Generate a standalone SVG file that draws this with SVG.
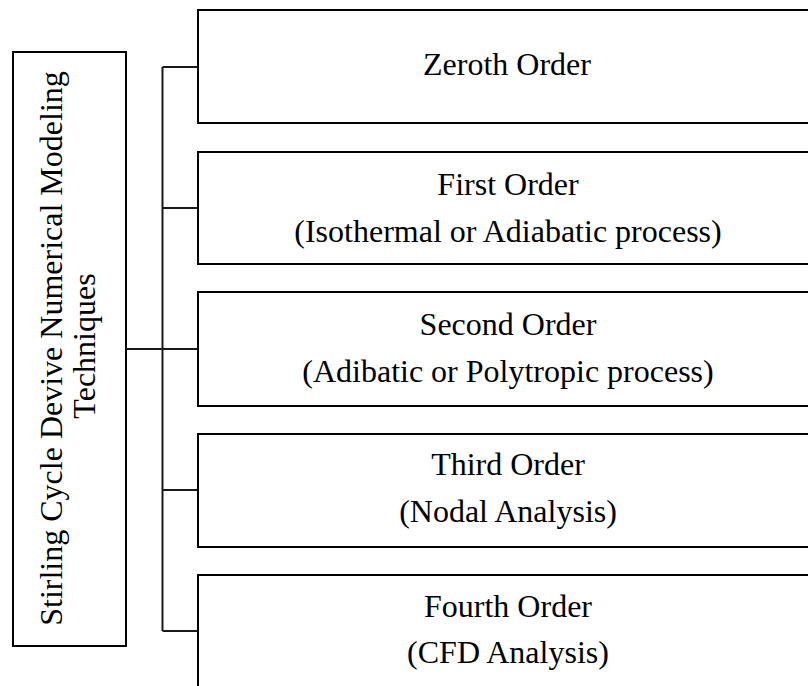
<svg xmlns="http://www.w3.org/2000/svg" width="808" height="686" viewBox="0 0 808 686">
<style>
.box{fill:#fff;stroke:#000;stroke-width:2}
.lbl{font-family:"Liberation Serif","Times New Roman",serif;font-size:32px;fill:#000;text-anchor:middle}
.con{stroke:#1a1a1a;stroke-width:2;fill:none}
</style>
<rect width="808" height="686" fill="#fff"/>
<g id="root">
<rect class="box" x="13" y="52" width="113" height="594"/>
<text class="lbl" transform="translate(61.5,348.5) rotate(-90)">Stirling Cycle Devive Numerical Modeling</text>
<text class="lbl" transform="translate(94.5,346) rotate(-90)">Techniques</text>
</g>
<g id="connectors">
<path class="con" d="M126 349H198M162.5 67V631M162.5 67H198M162.5 208H198M162.5 490H198M162.5 631H198"/>
</g>
<g id="zeroth">
<rect class="box" x="198" y="10" width="630" height="113"/>
<text class="lbl" x="507" y="75">Zeroth Order</text>
</g>
<g id="first">
<rect class="box" x="198" y="152" width="630" height="112"/>
<text class="lbl" x="508" y="195">First Order</text>
<text class="lbl" x="508" y="242">(Isothermal or Adiabatic process)</text>
</g>
<g id="second">
<rect class="box" x="198" y="292" width="630" height="114"/>
<text class="lbl" x="508" y="335">Second Order</text>
<text class="lbl" x="508" y="382">(Adibatic or Polytropic process)</text>
</g>
<g id="third">
<rect class="box" x="198" y="434" width="630" height="113"/>
<text class="lbl" x="508" y="475">Third Order</text>
<text class="lbl" x="508" y="522">(Nodal Analysis)</text>
</g>
<g id="fourth">
<rect class="box" x="198" y="575" width="630" height="130"/>
<text class="lbl" x="508" y="617">Fourth Order</text>
<text class="lbl" x="508" y="663">(CFD Analysis)</text>
</g>
</svg>
